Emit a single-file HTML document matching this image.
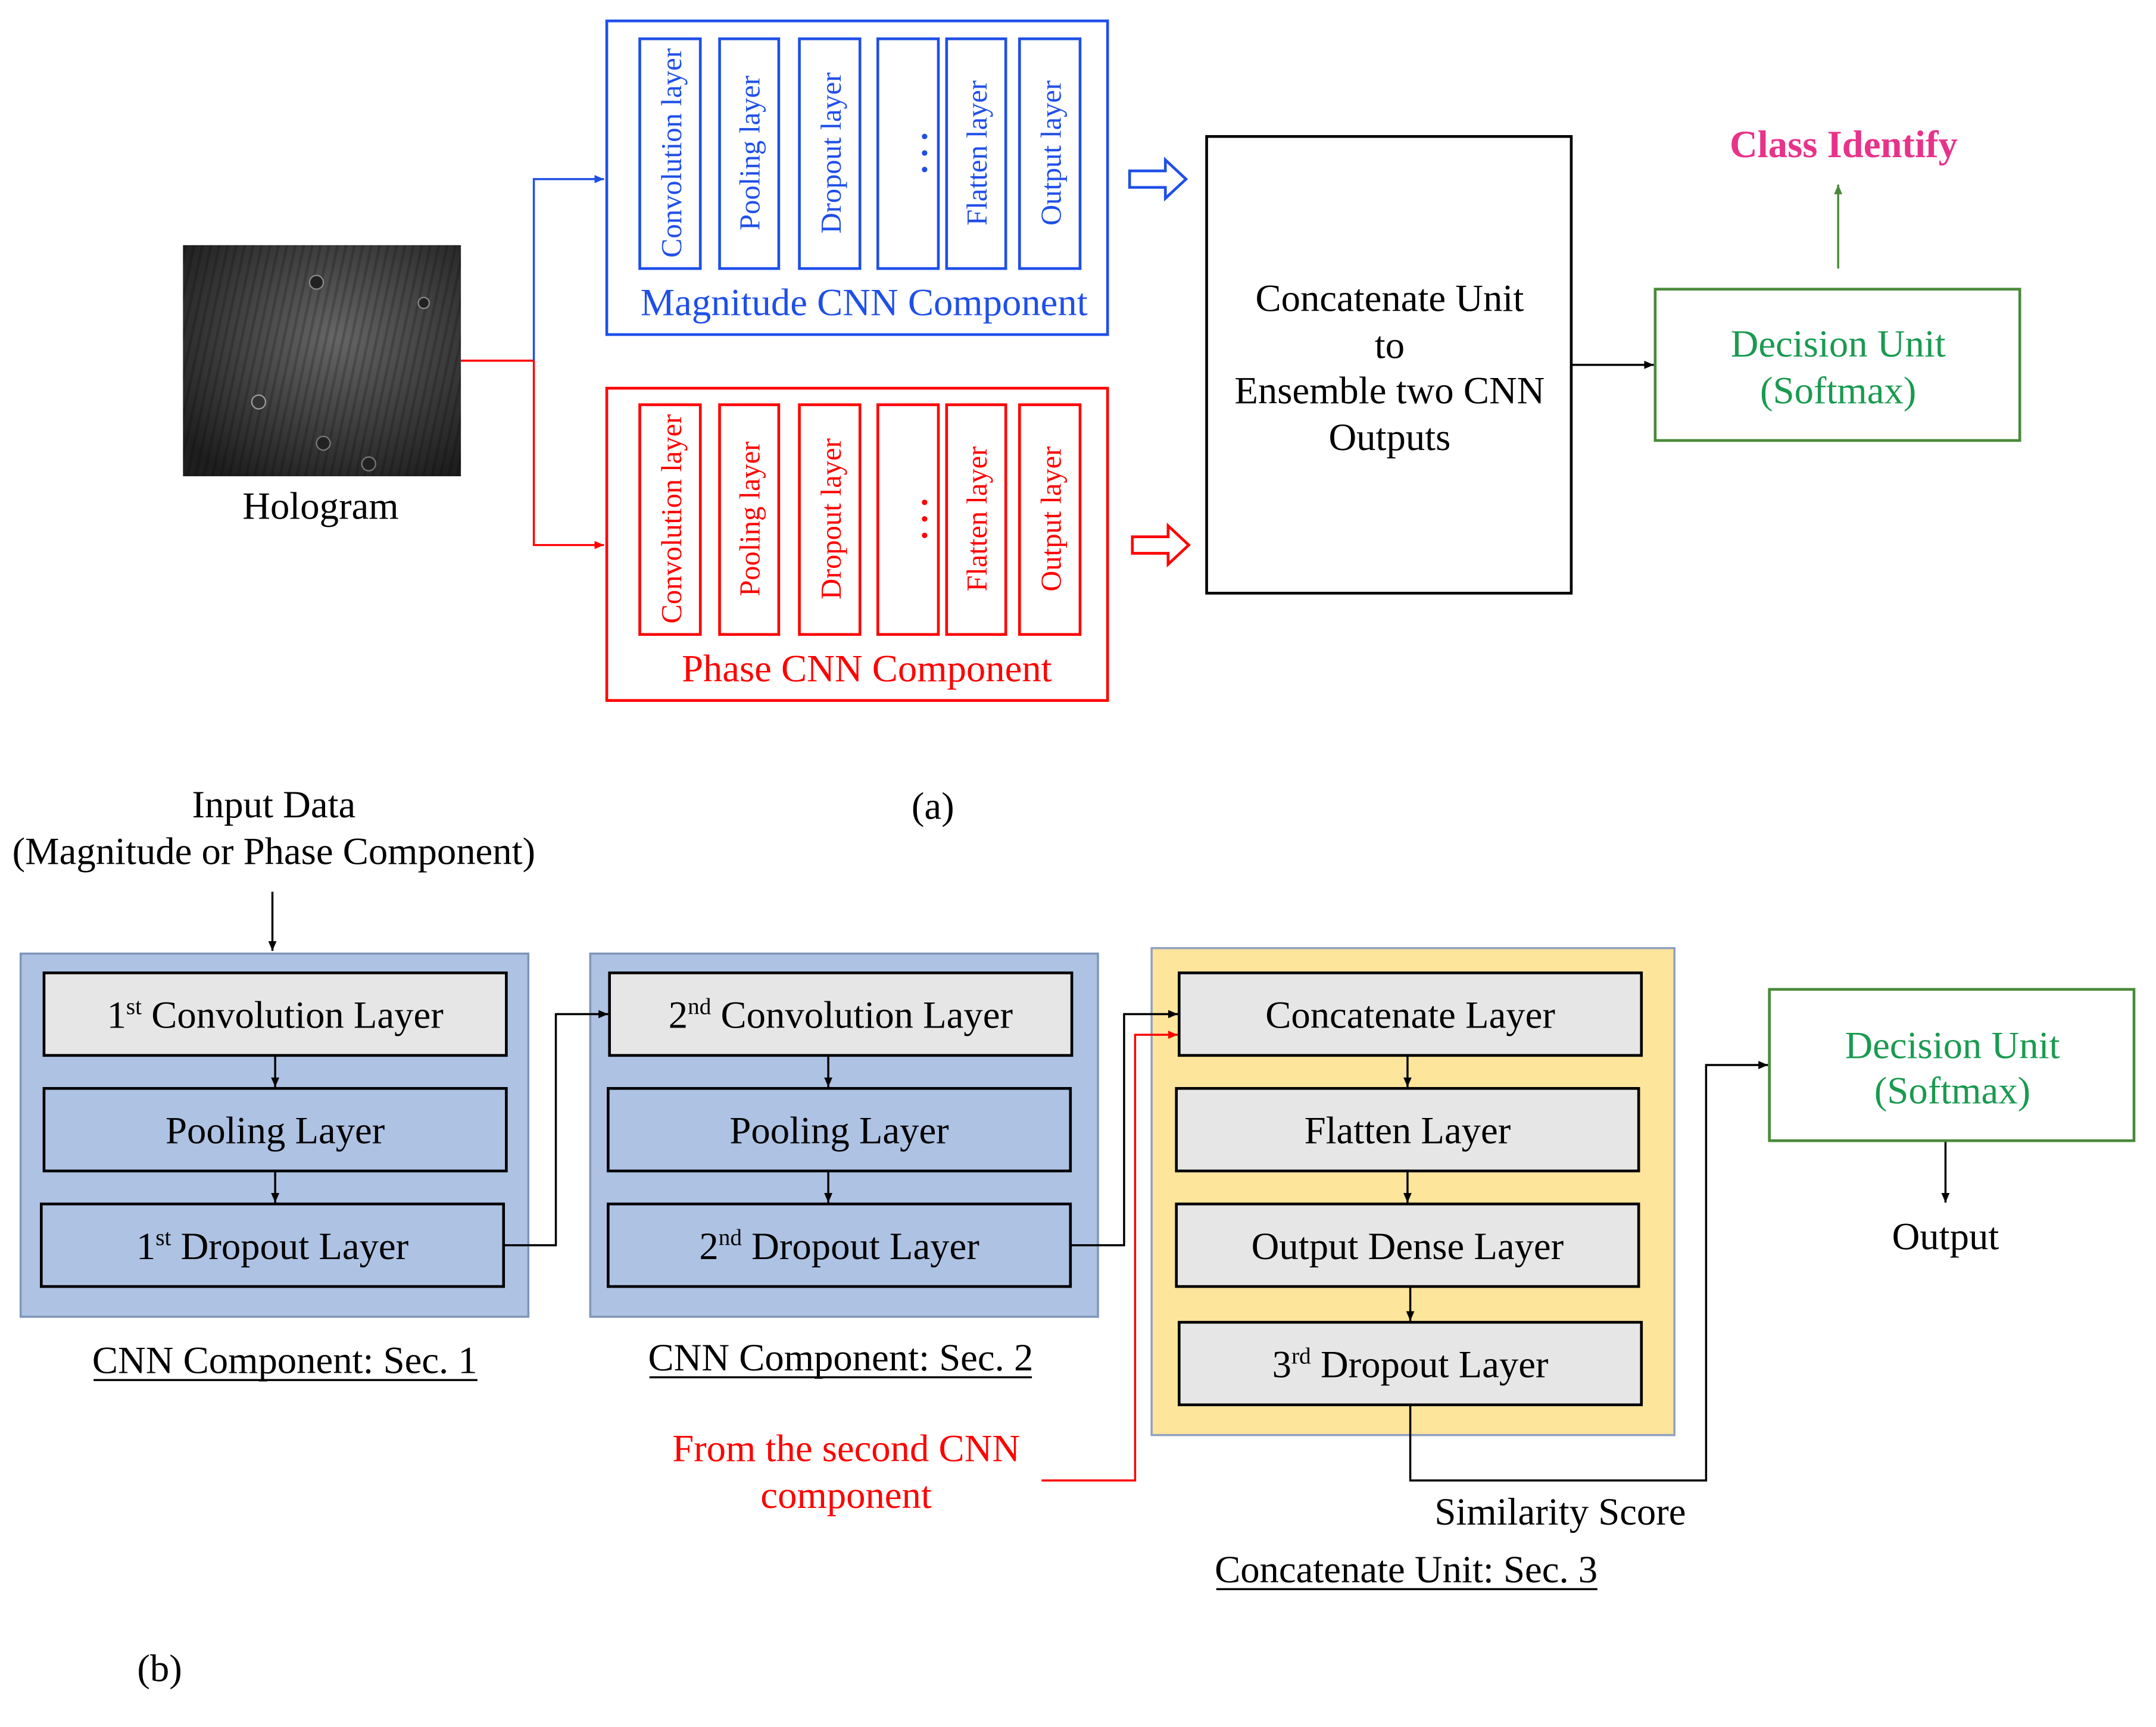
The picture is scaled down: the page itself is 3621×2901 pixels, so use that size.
<!DOCTYPE html>
<html><head><meta charset="utf-8"><style>html,body{margin:0;padding:0;background:#fff}svg{display:block}</style></head><body>
<svg width="3621" height="2901" viewBox="0 0 1567 1255" xmlns="http://www.w3.org/2000/svg" font-family="Liberation Serif, serif">
<defs>
<marker id="ab" markerWidth="8" markerHeight="8" refX="7" refY="4" orient="auto" markerUnits="userSpaceOnUse"><path d="M0,1 L7,4 L0,7 z" fill="#1f4fe8"/></marker>
<marker id="ar" markerWidth="8" markerHeight="8" refX="7" refY="4" orient="auto" markerUnits="userSpaceOnUse"><path d="M0,1 L7,4 L0,7 z" fill="#f00"/></marker>
<marker id="ak" markerWidth="8" markerHeight="8" refX="7" refY="4" orient="auto" markerUnits="userSpaceOnUse"><path d="M0,1 L7,4 L0,7 z" fill="#000"/></marker>
<marker id="ag" markerWidth="8" markerHeight="8" refX="7" refY="4" orient="auto" markerUnits="userSpaceOnUse"><path d="M0,1 L7,4 L0,7 z" fill="#4a8a3a"/></marker>
<radialGradient id="hg" cx="0.55" cy="0.4" r="0.7"><stop offset="0" stop-color="#666"/><stop offset="1" stop-color="#1e1e1e"/></radialGradient>
<pattern id="st" width="6" height="6" patternUnits="userSpaceOnUse" patternTransform="rotate(12)"><rect width="2" height="6" fill="#000" opacity="0.18"/></pattern>
</defs>
<rect x="133" y="178" width="202" height="168" fill="url(#hg)"/>
<rect x="133" y="178" width="202" height="168" fill="url(#st)"/>
<circle cx="230" cy="205" r="5" fill="#222" stroke="#888" stroke-width="1"/>
<circle cx="308" cy="220" r="4" fill="#222" stroke="#888" stroke-width="1"/>
<circle cx="188" cy="292" r="5" fill="#333" stroke="#999" stroke-width="1"/>
<circle cx="235" cy="322" r="5" fill="#222" stroke="#777" stroke-width="1"/>
<circle cx="268" cy="337" r="5" fill="#222" stroke="#777" stroke-width="1"/>
<text x="233" y="377" font-size="28" text-anchor="middle">Hologram</text>
<polyline points="335,262 388,262 388,396 439,396" fill="none" stroke="#f00" stroke-width="1.5" marker-end="url(#ar)"/>
<polyline points="388,262 388,130 439,130" fill="none" stroke="#1f4fe8" stroke-width="1.5" marker-end="url(#ab)"/>
<rect x="441" y="15" width="364" height="228" fill="none" stroke="#1f4fe8" stroke-width="2"/>
<g fill="none" stroke="#1f4fe8" stroke-width="2">
<rect x="465" y="28" width="44" height="167"/><rect x="523" y="28" width="43" height="167"/><rect x="581" y="28" width="44" height="167"/><rect x="638" y="28" width="44" height="167"/><rect x="688" y="28" width="43" height="167"/><rect x="741" y="28" width="44" height="167"/>
</g>
<g fill="#1f4fe8" font-size="21">
<text transform="translate(495,111) rotate(-90)" text-anchor="middle">Convolution layer</text>
<text transform="translate(552,111) rotate(-90)" text-anchor="middle">Pooling layer</text>
<text transform="translate(611,111) rotate(-90)" text-anchor="middle">Dropout layer</text>
<text transform="translate(717,111) rotate(-90)" text-anchor="middle">Flatten layer</text>
<text transform="translate(771,111) rotate(-90)" text-anchor="middle">Output layer</text>
<circle cx="672" cy="99" r="2"/><circle cx="672" cy="111" r="2"/><circle cx="672" cy="123" r="2"/>
<text x="628" y="229" font-size="28" text-anchor="middle">Magnitude CNN Component</text>
</g>
<rect x="441" y="282" width="364" height="227" fill="none" stroke="#f00" stroke-width="2"/>
<g fill="none" stroke="#f00" stroke-width="2">
<rect x="465" y="294" width="44" height="167"/><rect x="523" y="294" width="43" height="167"/><rect x="581" y="294" width="44" height="167"/><rect x="638" y="294" width="44" height="167"/><rect x="688" y="294" width="43" height="167"/><rect x="741" y="294" width="44" height="167"/>
</g>
<g fill="#f00" font-size="21">
<text transform="translate(495,377) rotate(-90)" text-anchor="middle">Convolution layer</text>
<text transform="translate(552,377) rotate(-90)" text-anchor="middle">Pooling layer</text>
<text transform="translate(611,377) rotate(-90)" text-anchor="middle">Dropout layer</text>
<text transform="translate(717,377) rotate(-90)" text-anchor="middle">Flatten layer</text>
<text transform="translate(771,377) rotate(-90)" text-anchor="middle">Output layer</text>
<circle cx="672" cy="365" r="2"/><circle cx="672" cy="377" r="2"/><circle cx="672" cy="389" r="2"/>
<text x="630" y="495" font-size="28" text-anchor="middle">Phase CNN Component</text>
</g>
<path d="M821,124 H847 V116 L862,130 L847,144 V136 H821 Z" fill="none" stroke="#1f4fe8" stroke-width="2"/>
<path d="M823,390 H849 V382 L864,396 L849,410 V402 H823 Z" fill="none" stroke="#f00" stroke-width="2"/>
<rect x="877" y="99" width="265" height="332" fill="none" stroke="#000" stroke-width="2"/>
<g font-size="28" text-anchor="middle">
<text x="1010" y="226">Concatenate Unit</text><text x="1010" y="260">to</text><text x="1010" y="293">Ensemble two CNN</text><text x="1010" y="327">Outputs</text>
</g>
<line x1="1142" y1="265" x2="1202" y2="265" stroke="#000" stroke-width="1.5" marker-end="url(#ak)"/>
<rect x="1203" y="210" width="265" height="110" fill="none" stroke="#4a8a3a" stroke-width="2"/>
<g font-size="28" text-anchor="middle" fill="#1a9a50"><text x="1336" y="259">Decision Unit</text><text x="1336" y="293">(Softmax)</text></g>
<line x1="1336" y1="195" x2="1336" y2="134" stroke="#4a8a3a" stroke-width="1.5" marker-end="url(#ag)"/>
<text x="1340" y="114" font-size="28" font-weight="bold" fill="#e8338a" text-anchor="middle">Class Identify</text>
<text x="678" y="595" font-size="28" text-anchor="middle">(a)</text>
<g font-size="28" text-anchor="middle"><text x="199" y="594">Input Data</text><text x="199" y="628">(Magnitude or Phase Component)</text></g>
<line x1="198" y1="648" x2="198" y2="691" stroke="#000" stroke-width="1.5" marker-end="url(#ak)"/>
<rect x="15" y="693" width="369" height="264" fill="#aec2e3" stroke="#7f95b8" stroke-width="1.5"/>
<rect x="429" y="693" width="369" height="264" fill="#aec2e3" stroke="#7f95b8" stroke-width="1.5"/>
<rect x="837" y="689" width="380" height="354" fill="#fde59b" stroke="#8da0c0" stroke-width="1.5"/>
<g stroke="#000" stroke-width="2">
<rect x="32" y="707" width="336" height="60" fill="#e6e6e6"/>
<rect x="32" y="791" width="336" height="60" fill="#aec2e3"/>
<rect x="30" y="875" width="336" height="60" fill="#aec2e3"/>
<rect x="443" y="707" width="336" height="60" fill="#e6e6e6"/>
<rect x="442" y="791" width="336" height="60" fill="#aec2e3"/>
<rect x="442" y="875" width="336" height="60" fill="#aec2e3"/>
<rect x="857" y="707" width="336" height="60" fill="#e6e6e6"/>
<rect x="855" y="791" width="336" height="60" fill="#e6e6e6"/>
<rect x="855" y="875" width="336" height="60" fill="#e6e6e6"/>
<rect x="857" y="961" width="336" height="60" fill="#e6e6e6"/>
</g>
<g font-size="28" text-anchor="middle">
<text x="200" y="747">1<tspan font-size="17" dy="-10">st</tspan><tspan dy="10"> Convolution Layer</tspan></text>
<text x="200" y="831">Pooling Layer</text>
<text x="198" y="915">1<tspan font-size="17" dy="-10">st</tspan><tspan dy="10"> Dropout Layer</tspan></text>
<text x="611" y="747">2<tspan font-size="17" dy="-10">nd</tspan><tspan dy="10"> Convolution Layer</tspan></text>
<text x="610" y="831">Pooling Layer</text>
<text x="610" y="915">2<tspan font-size="17" dy="-10">nd</tspan><tspan dy="10"> Dropout Layer</tspan></text>
<text x="1025" y="747">Concatenate Layer</text>
<text x="1023" y="831">Flatten Layer</text>
<text x="1023" y="915">Output Dense Layer</text>
<text x="1025" y="1001">3<tspan font-size="17" dy="-10">rd</tspan><tspan dy="10"> Dropout Layer</tspan></text>
</g>
<g stroke="#000" stroke-width="1.5" fill="none">
<line x1="200" y1="767" x2="200" y2="790" marker-end="url(#ak)"/>
<line x1="200" y1="851" x2="200" y2="874" marker-end="url(#ak)"/>
<line x1="602" y1="767" x2="602" y2="790" marker-end="url(#ak)"/>
<line x1="602" y1="851" x2="602" y2="874" marker-end="url(#ak)"/>
<line x1="1023" y1="767" x2="1023" y2="790" marker-end="url(#ak)"/>
<line x1="1023" y1="851" x2="1023" y2="874" marker-end="url(#ak)"/>
<line x1="1025" y1="935" x2="1025" y2="960" marker-end="url(#ak)"/>
<polyline points="366,905 404,905 404,737 442,737" marker-end="url(#ak)"/>
<polyline points="778,905 817,905 817,737 856,737" marker-end="url(#ak)"/>
<polyline points="1025,1021 1025,1076 1240,1076 1240,774 1285,774" marker-end="url(#ak)"/>
<line x1="1414" y1="829" x2="1414" y2="874" marker-end="url(#ak)"/>
</g>
<polyline points="757,1076 825,1076 825,752 856,752" fill="none" stroke="#f00" stroke-width="1.5" marker-end="url(#ar)"/>
<g font-size="28" text-anchor="middle">
<text x="207" y="998">CNN Component: Sec. 1</text>
<text x="611" y="996">CNN Component: Sec. 2</text>
<text x="1134" y="1108">Similarity Score</text>
<text x="1022" y="1150">Concatenate Unit: Sec. 3</text>
<text x="1414" y="908">Output</text>
<text x="116" y="1222">(b)</text>
<text x="615" y="1062" fill="#f00">From the second CNN</text>
<text x="615" y="1096" fill="#f00">component</text>
</g>
<g stroke="#000" stroke-width="1.5">
<line x1="68" y1="1003" x2="347" y2="1003"/>
<line x1="472" y1="1001" x2="750" y2="1001"/>
<line x1="884" y1="1155" x2="1161" y2="1155"/>
</g>
<rect x="1286" y="719" width="265" height="110" fill="none" stroke="#4a8a3a" stroke-width="2"/>
<g font-size="28" text-anchor="middle" fill="#1a9a50"><text x="1419" y="769">Decision Unit</text><text x="1419" y="802">(Softmax)</text></g>
</svg>
</body></html>
